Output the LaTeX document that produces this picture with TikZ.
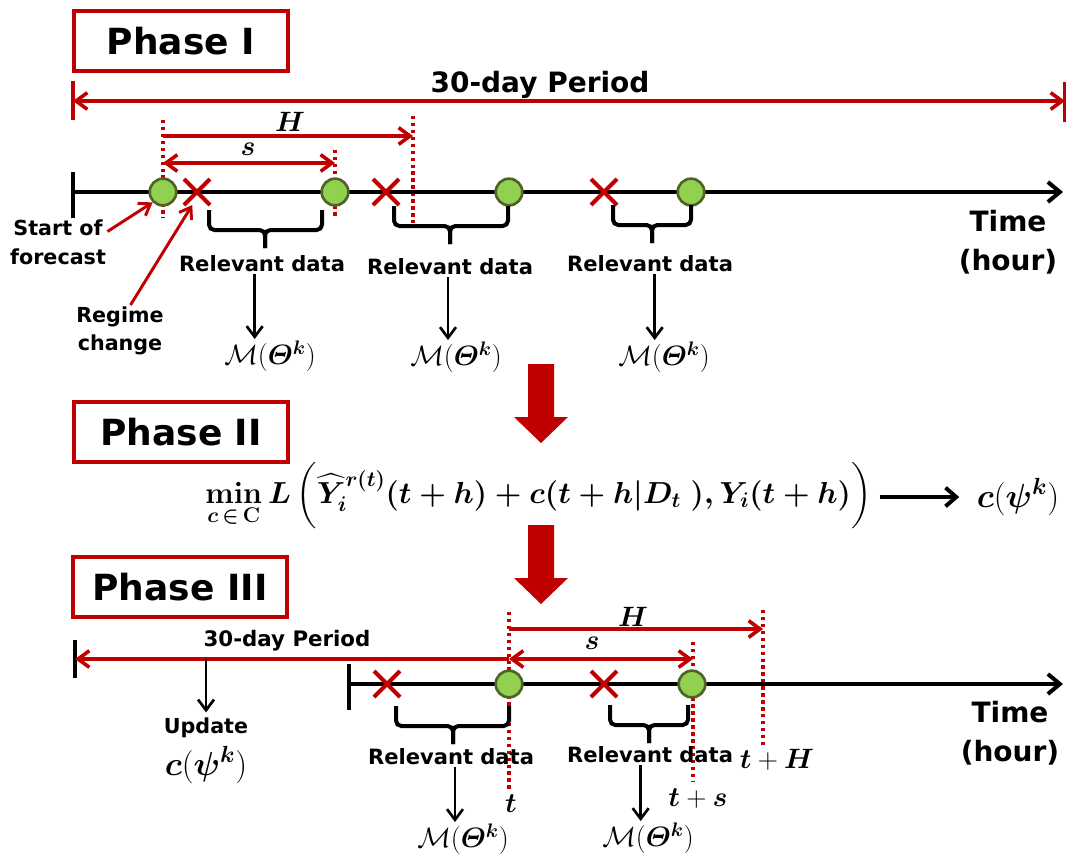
\RequirePackage{fix-cm}
\documentclass[tikz,border=0pt]{standalone}
\usepackage{amsmath}
\usepackage[no-math]{fontspec}
\setmainfont{DejaVu Sans}
\usepackage{bm}
\usetikzlibrary{arrows.meta,shapes.misc}

\definecolor{phasered}{HTML}{C00000}
\definecolor{eventgreen}{HTML}{92D050}
\definecolor{eventrim}{HTML}{4F6228}

\tikzset{
  phasebox/.style={draw=phasered,line width=3pt,minimum width=160.5pt,minimum height=45pt,inner sep=0pt,font=\fontsize{27}{30}\selectfont\bfseries},
  event/.style={circle,fill=eventgreen,draw=eventrim,line width=2pt,minimum size=20pt,inner sep=0pt},
  regime/.style={cross out,draw=phasered,line width=3pt,minimum size=16.5pt,inner sep=0pt},
  lbl/.style={font=\fontsize{15.5}{21.5}\selectfont\bfseries,align=center,inner sep=1pt},
  reldata/.style={font=\fontsize{15.8}{18}\selectfont\bfseries,inner sep=1pt},
  periodlbl/.style={font=\fontsize{21}{22}\selectfont\bfseries,inner sep=1pt},
  mathlbl/.style={font=\fontsize{21}{24}\selectfont,inner sep=1pt},
  timelbl/.style={font=\fontsize{21}{29}\selectfont\bfseries,align=center,inner sep=1pt},
  timeline/.style={line width=3pt,-{Straight Barb[length=9pt,width=15pt]}},
  span/.style={phasered,line width=2.7pt,>={Straight Barb[length=8.5pt,width=12.5pt]}},
  pointer/.style={phasered,line width=2.2pt,-{Straight Barb[length=8pt,width=11pt]}},
  down/.style={line width=2pt,-{Straight Barb[length=8pt,width=12pt]}},
  vmark/.style={phasered,line width=2.6pt,dash pattern=on 2.6pt off 2.6pt},
  brc/.style={line width=3pt,rounded corners=4pt}
}

% left x, right x, tip x, top y
\newcommand{\databrace}[4]{%
  \draw[brc] (#1,#4) |- (#3,#4+20) -- (#3,#4+38);
  \draw[brc] (#2,#4) |- (#3,#4+20) -- (#3,#4+38);}

\begin{document}
\begin{tikzpicture}[x=0.75pt,y=0.75pt,yscale=-1]
\useasboundingbox (0,0) rectangle (1066,858);

%%%%%%%%%%%%%%%% Phase I
\node[phasebox] (ph1) at (181,41) {Phase I};

%Straight Lines: 30-day period
\draw[span] (73,81) -- (73,120);
\draw[span] (1065,82) -- (1065,122);
\coordinate (pA) at (73,101);
\coordinate (pB) at (1065,101);
\draw[span,<->] (pA) -- (pB);
\node[periodlbl] (per1) at (540,85) {30-day Period};

%Dotted marks
\draw[vmark] (163,120) -- (163,218);
\draw[vmark] (335,150) -- (335,218);
\draw[vmark] (413,116) -- (413,225);

%Spans H and s
\coordinate (hA) at (163,136);
\coordinate (hB) at (413,136);
\draw[span,->] (hA) -- (hB);
\coordinate (sA) at (163,163);
\coordinate (sB) at (335,163);
\draw[span,<->] (sA) -- (sB);
\node[mathlbl] (hlab1) at (290,122) {$\bm{H}$};
\node[mathlbl] (slab1) at (248,149) {$\bm{s}$};

%Time axis
\draw[line width=3pt] (73,172) -- (73,218);
\coordinate (tA) at (73,192);
\coordinate (tB) at (1063,192);
\draw[timeline] (tA) -- (tB);
\node[timelbl] (time1) at (1008,242) {Time\\(hour)};

%Events and regime changes
\node[event] (e1) at (163,192) {};
\node[event] (e2) at (335,192) {};
\node[event] (e3) at (509,192) {};
\node[event] (e4) at (691,192) {};
\node[regime] (r1) at (197,192) {};
\node[regime] (r2) at (386,192) {};
\node[regime] (r3) at (604,192) {};

%Braces
\databrace{209}{322}{265}{210}
\databrace{394}{508}{450}{206}
\databrace{613}{691}{652}{205}

% Text Node
\node[lbl] (sof) at (58,242) {Start of\\forecast};
\node[lbl] (rgc) at (120,331) {Regime\\change};
\draw[pointer] (sof.12) -- (e1.225);
\draw[pointer] (rgc.68) -- (r1.250);

% Text Node
\node[reldata] (rd1) at (262,264) {Relevant data};
\node[reldata] (rd2) at (450,267) {Relevant data};
\node[reldata] (rd3) at (650,264) {Relevant data};
\node[mathlbl] (m1) at (270,356) {$\mathcal{M}(\bm{\varTheta}^{\bm{k}})$};
\node[mathlbl] (m2) at (456,357) {$\mathcal{M}(\bm{\varTheta}^{\bm{k}})$};
\node[mathlbl] (m3) at (664,357) {$\mathcal{M}(\bm{\varTheta}^{\bm{k}})$};
\draw[down] ([xshift=-5.5pt]rd1.south) -- ([xshift=-5.5pt]rd1.south |- m1.north);
\draw[down] ([xshift=-1.5pt]rd2.south) -- ([xshift=-1.5pt]rd2.south |- m2.north);
\draw[down] ([xshift=3.5pt]rd3.south) -- ([xshift=3.5pt]rd3.south |- m3.north);

%Block arrows between phases
\foreach \top in {364,525}{
  \fill[phasered] (528,\top) -- ++(26,0) -- ++(0,53) -- ++(14,0) -- ++(-27,26) -- ++(-27,-26) -- ++(14,0) -- cycle;
}

%%%%%%%%%%%%%%%% Phase II
\node[phasebox] (ph2) at (181,432) {Phase II};
\node[anchor=base west,inner sep=0pt,font=\fontsize{22.8}{27}\selectfont\boldmath] (loss) at (205,503)
  {$\displaystyle\min_{c\,\in\,\mathrm{C}} L\left(\vrule height 1.45em depth 0.95em width 0pt
   \widehat{Y}_i^{r(t)}(t+h)+c(t+h|D_t\ ),Y_i(t+h)\right)$};
\node[mathlbl,font=\fontsize{25}{28}\selectfont] (cpsi1) at (1018,497) {$\bm{c}(\bm{\psi}^{\bm{k}})$};
\draw[line width=3pt,-{Straight Barb[length=8pt,width=14pt]}] ([xshift=6pt]loss.east |- cpsi1) -- ([xshift=-12pt]cpsi1.west);

%%%%%%%%%%%%%%%% Phase III
\node[phasebox] (ph3) at (180,587) {Phase III};

%Straight Lines: 30-day period
\draw[line width=3pt] (75,640) -- (75,678);
\coordinate (qA) at (75,659);
\coordinate (qB) at (509,659);
\draw[span,<-] (qA) -- (qB);
\node[reldata,font=\fontsize{16}{18}\selectfont\bfseries] (per3) at (287,641) {30-day Period};
\coordinate (updtop) at (206,659);
\node[lbl] (upd) at (206,728) {Update};
\node[mathlbl,font=\fontsize{25}{28}\selectfont] (cpsi3) at (206,765) {$\bm{c}(\bm{\psi}^{\bm{k}})$};
\draw[down] (updtop) -- ([yshift=-3pt]upd.north);

%Dotted marks
\draw[vmark] (509,612) -- (509,790);
\draw[vmark] (693,642) -- (693,782);
\draw[vmark] (763,610) -- (763,747);

%Spans H and s
\coordinate (hC) at (509,629);
\coordinate (hD) at (763,629);
\draw[span,->] (hC) -- (hD);
\coordinate (sC) at (509,659);
\coordinate (sD) at (693,659);
\draw[span,<->] (sC) -- (sD);
\node[mathlbl] (hlab3) at (633,617) {$\bm{H}$};
\node[mathlbl] (slab3) at (592,643) {$\bm{s}$};

%Time axis
\draw[line width=3pt] (349,664) -- (349,710);
\coordinate (tC) at (349,684);
\coordinate (tD) at (1063,684);
\draw[timeline] (tC) -- (tD);
\node[timelbl] (time3) at (1010,733) {Time\\(hour)};

%Events and regime changes
\node[event] (e5) at (509,684) {};
\node[event] (e6) at (692,684) {};
\node[regime] (r4) at (387,684) {};
\node[regime] (r5) at (604,684) {};

%Braces
\databrace{396}{509}{453}{706}
\databrace{610}{688}{649}{705}

% Text Node
\node[reldata] (rd4) at (451,757) {Relevant data};
\node[reldata] (rd5) at (650,755) {Relevant data};
\node[mathlbl] (m4) at (463,839) {$\mathcal{M}(\bm{\varTheta}^{\bm{k}})$};
\node[mathlbl] (m5) at (648,838) {$\mathcal{M}(\bm{\varTheta}^{\bm{k}})$};
\draw[down] ([xshift=3pt]rd4.south) -- ([xshift=3pt]rd4.south |- m4.north);
\draw[down] ([xshift=-7pt]rd5.south) -- ([xshift=-7pt]rd5.south |- m5.north);
\node[mathlbl] (tl) at (511,804) {$\bm{t}$};
\node[mathlbl] (tsl) at (698,798) {$\bm{t}+\bm{s}$};
\node[mathlbl] (thl) at (777,760) {$\bm{t}+\bm{H}$};

\end{tikzpicture}
\end{document}
